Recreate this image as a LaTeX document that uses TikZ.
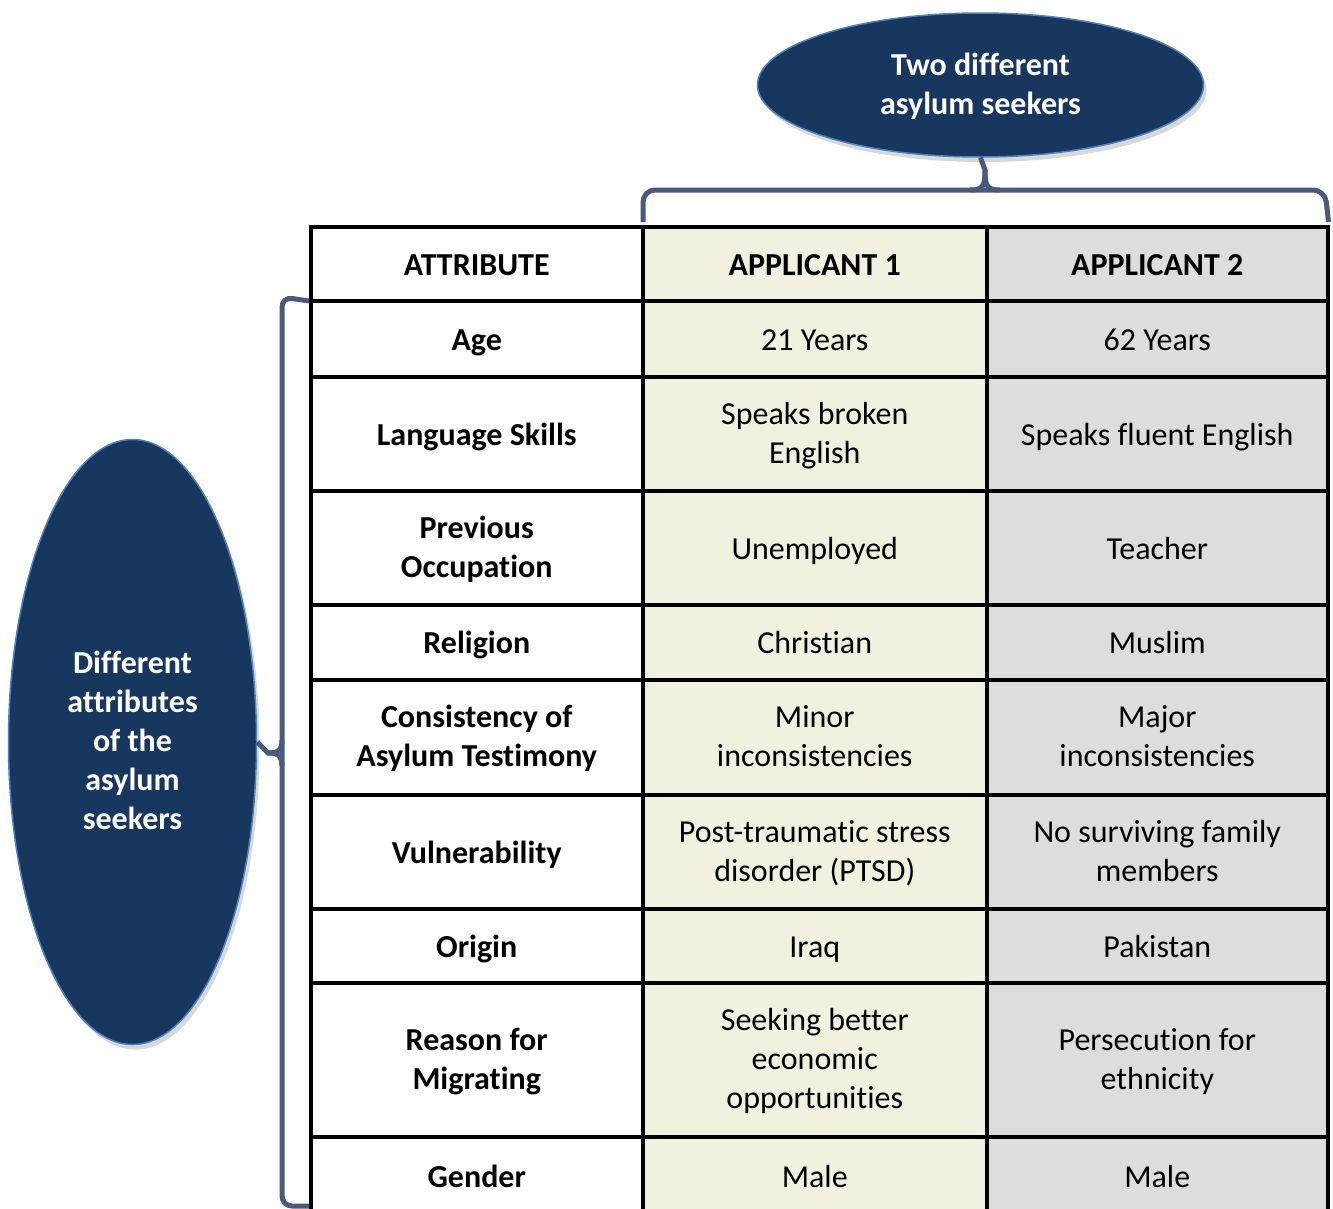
\documentclass[tikz,border=0pt]{standalone}
\usepackage{fontspec}
\setmainfont{Carlito}[Ligatures={NoCommon}]
\usetikzlibrary{shapes.geometric,shadows}
\definecolor{navy}{HTML}{17375E}
\definecolor{rim}{HTML}{4F81BD}
\definecolor{bracecol}{HTML}{4A5A7A}
\definecolor{ycol}{HTML}{F2F1DF}
\definecolor{gcol}{HTML}{DDDDDD}
\newcommand\cellstrut{\rule[-8.2pt]{0pt}{39pt}}
\newcommand\mlines[1]{\raisebox{-2pt}[\height][\depth]{\begin{tabular}{@{}c@{}}#1\end{tabular}}}
\begin{document}
\begin{tikzpicture}[x=1pt,y=-1pt,
  txt/.style={font=\fontsize{32}{39}\selectfont},
  cell/.style={draw=black, line width=3.5pt, anchor=north west, inner sep=0pt, align=center, txt,
     execute at begin node={\cellstrut}, execute at end node={\cellstrut}},
  colA/.style={cell, minimum width=332pt, font=\fontsize{32}{39}\selectfont\bfseries},
  colB/.style={cell, minimum width=344pt, fill=ycol},
  colC/.style={cell, minimum width=341pt, fill=gcol},
  hd/.style={font=\fontsize{32}{39}\selectfont\bfseries},
  h/.style={minimum height=#1},
  bubble/.style={ellipse, draw=rim, line width=1.5pt, fill=navy, text=white, align=center,
     font=\fontsize{32}{39}\selectfont\bfseries, inner sep=0pt,
     drop shadow={shadow xshift=3pt, shadow yshift=-5pt, fill=black!30}},
  bracket/.style={draw=bracecol, line width=5pt}
]
\clip (0,0) rectangle (1333,1208);
\fill[white] (0,0) rectangle (1333,1208);

% bubbles
\node[bubble, minimum width=446pt, minimum height=144pt] (top) at (980.5,85) {\mlines{Two different\\asylum seekers}};
\node[bubble, minimum width=248pt, minimum height=605pt] (left) at (132.5,742) {\mlines{Different\\attributes\\of the\\asylum\\seekers}};

% table
\node[colA, h=74pt] (a0) at (309,225) {ATTRIBUTE};
\node[colB, h=74pt, hd] (b0) at (641,225) {APPLICANT 1};
\node[colC, h=74pt, hd] (c0) at (985,225) {APPLICANT 2};

\node[colA, h=76pt] (a1) at (309,299) {Age};
\node[colB, h=76pt] (b1) at (641,299) {21 Years};
\node[colC, h=76pt] (c1) at (985,299) {62 Years};

\node[colA, h=114pt] (a2) at (309,375) {Language Skills};
\node[colB, h=114pt] (b2) at (641,375) {\mlines{Speaks broken\\English}};
\node[colC, h=114pt] (c2) at (985,375) {Speaks fluent English};

\node[colA, h=114pt] (a3) at (309,489) {\mlines{Previous\\Occupation}};
\node[colB, h=114pt] (b3) at (641,489) {Unemployed};
\node[colC, h=114pt] (c3) at (985,489) {Teacher};

\node[colA, h=75pt] (a4) at (309,603) {Religion};
\node[colB, h=75pt] (b4) at (641,603) {Christian};
\node[colC, h=75pt] (c4) at (985,603) {Muslim};

\node[colA, h=115pt] (a5) at (309,678) {\mlines{Consistency of\\Asylum Testimony}};
\node[colB, h=115pt] (b5) at (641,678) {\mlines{Minor\\inconsistencies}};
\node[colC, h=115pt] (c5) at (985,678) {\mlines{Major\\inconsistencies}};

\node[colA, h=114pt] (a6) at (309,793) {Vulnerability};
\node[colB, h=114pt] (b6) at (641,793) {\mlines{Post-traumatic stress\\disorder (PTSD)}};
\node[colC, h=114pt] (c6) at (985,793) {\mlines{No surviving family\\members}};

\node[colA, h=74pt] (a7) at (309,907) {Origin};
\node[colB, h=74pt] (b7) at (641,907) {Iraq};
\node[colC, h=74pt] (c7) at (985,907) {Pakistan};

\node[colA, h=154pt] (a8) at (309,981) {\mlines{Reason for\\Migrating}};
\node[colB, h=154pt] (b8) at (641,981) {\mlines{Seeking better\\economic\\opportunities}};
\node[colC, h=154pt] (c8) at (985,981) {\mlines{Persecution for\\ethnicity}};

\node[colA, h=78pt] (a9) at (309,1135) {Gender};
\node[colB, h=78pt] (b9) at (641,1135) {Male};
\node[colC, h=78pt] (c9) at (985,1135) {Male};

% top brace
\coordinate (tl) at (b0.north west);
\coordinate (tr) at (c0.north east);
\draw[bracket, rounded corners=12pt] ([xshift=2pt,yshift=3pt]tl) -- (643,190) -- (1325,190) -- ([xshift=-1pt,yshift=3pt]tr);
\draw[bracket] (970,190) .. controls (983,190) and (985,186) .. (985,170) -- (top.south);
\draw[bracket] (1000,190) .. controls (987,190) and (985,186) .. (985,170);

% left brace
\coordinate (lt) at ([yshift=-2pt]a1.north west);
\coordinate (lb) at (309,1206);
\draw[bracket, rounded corners=10pt] (lt) -- (282,297) -- (282,1206) -- (lb);
\draw[bracket] (282,740) .. controls (282,750) and (278,753) .. (268,753) -- (left.east);
\draw[bracket] (282,766) .. controls (282,756) and (278,753) .. (268,753);
\end{tikzpicture}
\end{document}
